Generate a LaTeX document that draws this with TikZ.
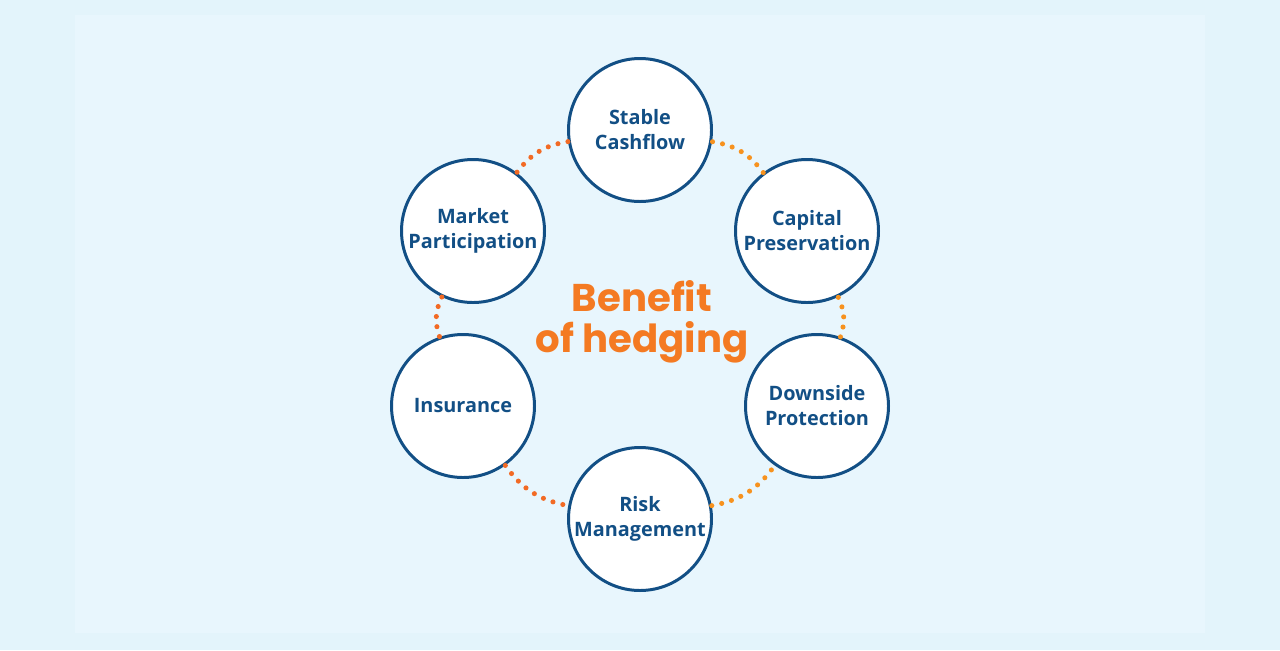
\documentclass[tikz,border=0pt]{standalone}
\usepackage{fontspec}
\setmainfont{Open Sans}
\newfontfamily\headfont{Poppins}
\usepackage{tikz}
\usetikzlibrary{calc, fadings}
\usepackage{xcolor}

\definecolor{pageblue}{HTML}{E3F4FB}
\definecolor{panelblue}{HTML}{E8F6FD}
\definecolor{navy}{HTML}{124F85}
\definecolor{dotred}{HTML}{F26A24}
\definecolor{dotamber}{HTML}{F7921E}
\definecolor{headorange}{HTML}{F47A22}

\newcommand{\titlefont}{\headfont\bfseries\fontsize{22}{23}\selectfont}

% Maske für den Farbverlauf im Titel
\begin{tikzfadingfrompicture}[name=titlefade]
  \node[text=transparent!0, font=\titlefont, align=center] {Benefit\\of hedging};
\end{tikzfadingfrompicture}

\begin{document}
\begin{tikzpicture}[
    x=0.2mm, y=-0.2mm,
    every node/.style={font=\bfseries\fontsize{11.3}{14.2}\selectfont},
    benefit/.style={circle, draw=navy, line width=1.7pt, fill=white,
                    minimum size=28.6mm, inner sep=0pt, align=center, text=navy},
    dots/.style={line width=2.9pt, line cap=round, dash pattern=on 0pt off 5.8pt},
]

% --- Hintergrund --------------------------------------------------
\useasboundingbox (0,0) rectangle (1280,650);
\fill[pageblue] (0,0) rectangle (1280,650);
\fill[panelblue] (75,15) rectangle (1205,633);

% --- Sechs Kreise rund um die Mitte -------------------------------
\node[benefit] (stable)   at (640,130) {Stable\\Cashflow};
\node[benefit] (capital)  at (807,231) {Capital\\Preservation};
\node[benefit] (downside) at (817,406) {Downside\\Protection};
\node[benefit] (risk)     at (640,519) {Risk\\Management};
\node[benefit] (insur)    at (463,406) {Insurance};
\node[benefit] (market)   at (473,231) {Market\\Participation};

% --- Punktierte Bögen zwischen den Kreisen ------------------------
\draw[dots, dotred]   (stable)   to[bend right=22] (market);
\draw[dots, dotred]   (market)   to[bend right=22] (insur);
\draw[dots, dotred]   (insur)    to[bend right=22] (risk);
\draw[dots, dotamber] (risk)     to[bend right=22] (downside);
\draw[dots, dotamber] (downside) to[bend right=22] (capital);
\draw[dots, dotamber] (capital)  to[bend right=22] (stable);

% --- Titel in der Mitte (mit Verlauf) -----------------------------
\node[font=\titlefont, text=headorange, align=center]
    (title) at (642,322) {Benefit\\of hedging};
\shade[path fading=titlefade, fit fading=false,
       left color=dotred, right color=dotamber]
    (title.south west) rectangle (title.north east);

\end{tikzpicture}
\end{document}
